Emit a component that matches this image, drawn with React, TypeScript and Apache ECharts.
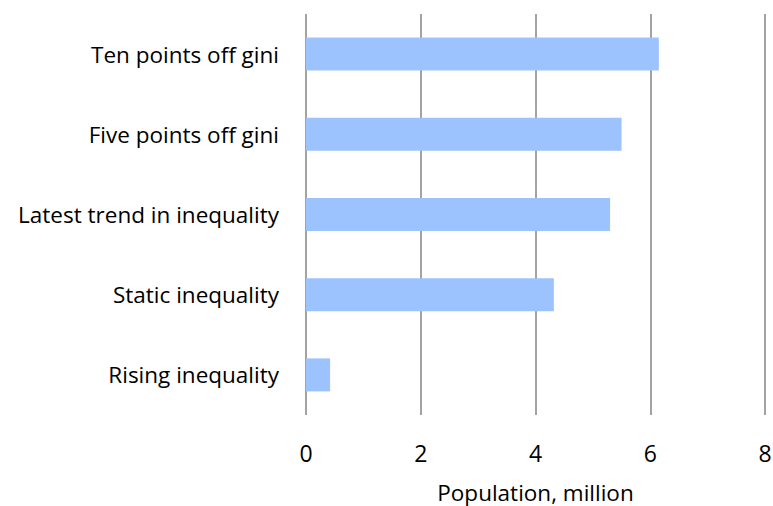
import React, { useEffect, useRef } from "react";
import * as echarts from "echarts";

const categories = [
  "Rising inequality",
  "Static inequality",
  "Latest trend in inequality",
  "Five points off gini",
  "Ten points off gini",
];
const values = [0.42, 4.32, 5.3, 5.5, 6.15];
const axisName = "Population, million";

export default function App() {
  const ref = useRef<HTMLDivElement>(null);
  useEffect(() => {
    document.body.style.margin = "0";
    document.body.style.overflow = "hidden";
    if (!ref.current) return;
    const chart = echarts.init(ref.current, null, { renderer: "svg" });
    const font = "'Open Sans', sans-serif";
    chart.setOption({
      animation: false,
      grid: {
        left: 306,
        right: 8,
        top: 14,
        bottom: 91,
        containLabel: false,
        outerBoundsMode: "none",
      },
      xAxis: {
        type: "value",
        min: 0,
        max: 8,
        interval: 2,
        name: axisName,
        nameLocation: "middle",
        nameGap: 65,
        nameTextStyle: { fontFamily: font, fontSize: 22.5, lineHeight: 24, color: "#000" },
        axisLine: { show: false },
        axisTick: { show: false },
        axisLabel: { fontFamily: font, fontSize: 23, color: "#000", margin: 26 },
        splitLine: { show: true, lineStyle: { color: "#858585", width: 1.5 } },
      },
      yAxis: {
        type: "category",
        data: categories,
        axisLine: { show: false },
        axisTick: { show: false },
        axisLabel: { fontFamily: font, fontSize: 22.5, color: "#000", margin: 27 },
        splitLine: { show: false },
      },
      series: [
        {
          type: "bar",
          data: values,
          barWidth: 33,
          itemStyle: { color: "#9DC3FF" },
        },
      ],
    });
    return () => chart.dispose();
  }, []);
  return <div ref={ref} style={{ width: 773, height: 506 }} />;
}
